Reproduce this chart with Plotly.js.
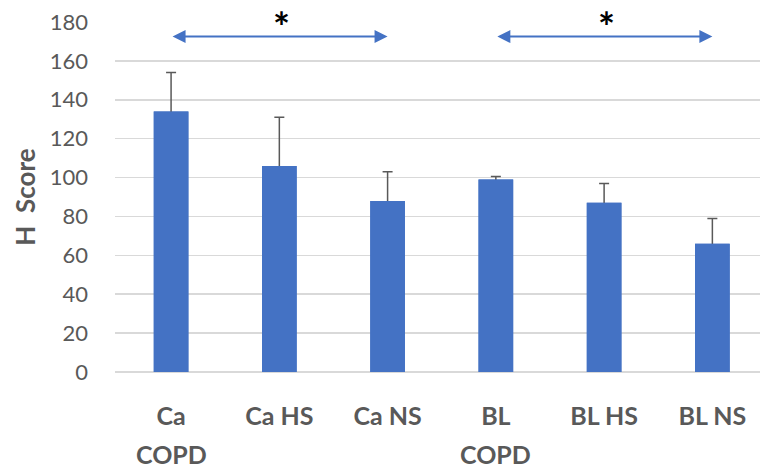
<!DOCTYPE html>
<html><head><meta charset="utf-8">
<script src="https://cdn.plot.ly/plotly-3.0.1.min.js"></script>
<style>body{margin:0;background:#fff}#c{width:760px;height:469px}</style>
</head><body><div id="c"></div>
<script>
var categories = ['Ca', 'Ca HS', 'Ca NS', 'BL', 'BL HS', 'BL NS'];
var secondLine = ['COPD', '', '', 'COPD', '', ''];
var hScore = [134, 106, 88, 99, 87, 66];
var errPlus = [20, 25, 15, 1.5, 10, 13];
var yTicks = [0, 20, 40, 60, 80, 100, 120, 140, 160, 180];
var comparisons = [[0, 2], [3, 5]];
var arrowLevel = 172.5;

var xs = [0,1,2,3,4,5];
var blue = '#4472C4';
var errTrace = {
  type: 'bar', x: xs, y: hScore, marker: {color: blue}, width: 0.32,
  error_y: {type: 'data', symmetric: true, array: errPlus, color: '#595959', thickness: 1.5, width: 5},
  hoverinfo: 'none'
};
var barTrace = {type: 'bar', x: xs, y: hScore, marker: {color: blue}, width: 0.32, hoverinfo: 'none'};

var annotations = [];
comparisons.forEach(function(c){
  annotations.push({x: c[1], y: arrowLevel, ax: c[0], ay: arrowLevel, xref: 'x', yref: 'y', axref: 'x', ayref: 'y',
    text: '', showarrow: true, arrowhead: 2, arrowside: 'end+start', arrowsize: 1.3, arrowwidth: 2, arrowcolor: blue,
    startstandoff: 0, standoff: 0});
  annotations.push({x: (c[0] + c[1]) / 2 + 0.02, y: 1.06, xref: 'x', yref: 'paper', text: '<b>*</b>', showarrow: false,
    font: {family: 'Lato, sans-serif', size: 40, color: '#000'}, yanchor: 'top'});
});
secondLine.forEach(function(t, i){
  if (t) annotations.push({x: xs[i], y: -0.234, xref: 'x', yref: 'paper', text: '<b>' + t + '</b>', showarrow: false,
    yanchor: 'middle', font: {family: 'Lato, sans-serif', size: 25, color: '#595959'}});
});
var layout = {
  width: 760, height: 469, margin: {l: 115, r: 0, t: 22, b: 97},
  paper_bgcolor: '#fff', plot_bgcolor: '#fff', showlegend: false, barmode: 'overlay',
  font: {family: 'Lato, sans-serif', color: '#595959'},
  xaxis: {range: [-0.518, 5.44], tickvals: xs, ticktext: categories.map(function(s){return '<b>'+s+'</b>';}),
          tickfont: {size: 25, color: '#595959'}, showgrid: false, zeroline: false, showline: false, ticks: '', ticklabelstandoff: 27},
  yaxis: {range: [0, 180], tickvals: yTicks, tickfont: {size: 22, color: '#595959'}, showgrid: true, gridcolor: '#d9d9d9', gridwidth: 1.5,
          zeroline: true, zerolinecolor: '#d9d9d9', zerolinewidth: 1.5, showline: false, ticks: '', ticklabelstandoff: 26,
          title: {text: '<b>H  Score</b>', font: {size: 26, color: '#595959'}, standoff: 6}},
  annotations: annotations
};
Plotly.newPlot('c', [errTrace, barTrace], layout, {staticPlot: true});
</script></body></html>
